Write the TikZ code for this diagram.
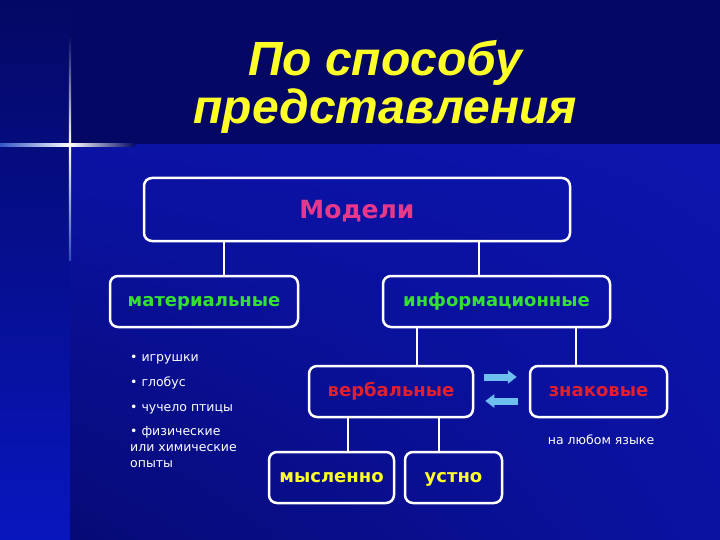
\documentclass[tikz,border=0pt]{standalone}
\usepackage{fontspec}
\setmainfont{DejaVu Sans}
\newfontfamily\titlefont{Liberation Sans}
\usetikzlibrary{arrows.meta,positioning,shadings}

\definecolor{bgtop}{RGB}{4,8,100}
\definecolor{bgbright}{RGB}{12,20,172}
\definecolor{bgdark}{RGB}{6,10,118}
\definecolor{stripblue}{RGB}{8,22,190}
\definecolor{sparkle}{RGB}{70,120,240}
\definecolor{modpink}{RGB}{232,56,140}
\definecolor{matgreen}{RGB}{50,225,50}
\definecolor{verbred}{RGB}{228,30,45}
\definecolor{ttlyellow}{RGB}{255,255,40}
\definecolor{arrblue}{RGB}{110,190,240}

\begin{document}
\begin{tikzpicture}[x=1pt,y=-1pt,
    modelbox/.style={draw=white,line width=2.5pt,rounded corners=8pt,inner sep=0pt,
      minimum height=51pt,text height=10pt,text depth=0pt,
      font=\fontsize{18}{20}\selectfont\bfseries},
    link/.style={draw=white,line width=2.5pt},
    flow/.style={arrblue,line width=7pt,-{Triangle[width=13pt,length=9pt]}},
    listitem/.style={anchor=base west,text=white,inner sep=0pt,
      font=\fontsize{12.5}{16}\selectfont},
    heading/.style={text=ttlyellow,anchor=base,inner sep=0pt,
      font=\titlefont\fontsize{48}{50}\selectfont\bfseries\itshape}]
    \useasboundingbox (0,0) rectangle (720,540);
    % background
    \fill[bgtop] (0,0) rectangle (720,540);
    \shade[top color=bgtop,bottom color=stripblue] (0,0) rectangle (70,540);
    \shade[upper left=bgbright!85!bgdark,upper right=bgbright,
      lower left=bgdark,lower right=bgbright!80!bgdark] (70,145) rectangle (720,540);
    \shade[left color=sparkle!70!bgtop,right color=white] (0,143.8) rectangle (70,146.2);
    \shade[left color=white,right color=bgtop] (70,143.8) rectangle (135,146.2);
    \shade[top color=bgtop,bottom color=white] (68.8,35) rectangle (71.2,145);
    \shade[top color=white,bottom color=sparkle!60!bgtop] (68.8,145) rectangle (71.2,260);

    \node[heading] (title1) at (385,76) {По способу};
    \node[heading] (title2) at (385,124) {представления};

    \node[modelbox,minimum width=426pt,minimum height=63pt,text=modpink,
      text height=18pt,font=\fontsize{25}{28}\selectfont\bfseries] (models) at (357,209.5) {Модели};
    \node[modelbox,minimum width=188pt,text=matgreen] (mat) at (204,301.5) {материальные};
    \node[modelbox,minimum width=227pt,text=matgreen] (info) at (496.5,301.5) {информационные};
    \node[modelbox,minimum width=164pt,text=verbred] (verb) at (391,391.5) {вербальные};
    \node[modelbox,minimum width=137pt,text=verbred] (sign) at (598.5,391.5) {знаковые};
    \node[modelbox,minimum width=125pt,text=ttlyellow] (mind) at (331.5,477.5) {мысленно};
    \node[modelbox,minimum width=97pt,text=ttlyellow] (oral) at (453.5,477.5) {устно};

    \draw[link] ([xshift=20pt]mat.north) -- ([xshift=20pt]mat.north |- models.south);
    \draw[link] ([xshift=-17.5pt]info.north) -- ([xshift=-17.5pt]info.north |- models.south);
    \draw[link] ([xshift=26pt]verb.north) -- ([xshift=26pt]verb.north |- info.south);
    \draw[link] ([xshift=-22.5pt]sign.north) -- ([xshift=-22.5pt]sign.north |- info.south);
    \draw[link] ([xshift=16.5pt]mind.north) -- ([xshift=16.5pt]mind.north |- verb.south);
    \draw[link] ([xshift=-14.5pt]oral.north) -- ([xshift=-14.5pt]oral.north |- verb.south);

    \draw[flow] ([xshift=10pt,yshift=14.5pt]verb.east) -- ([xshift=-12pt,yshift=14.5pt]sign.west);
    \draw[flow] ([xshift=-11pt,yshift=-9.5pt]sign.west) -- ([xshift=11pt,yshift=-9.5pt]verb.east);

    \node[text=white,font=\fontsize{12.5}{15}\selectfont] (lang) at (601,440) {на любом языке};

    \node[listitem] (toys) at (130,361) {• игрушки};
    \node[listitem] (globe) at (130,386) {• глобус};
    \node[listitem] (bird) at (130,411) {• чучело птицы};
    \node[listitem,anchor=north west,align=left] (exper) at (130,426)
      {• физические\\или химические\\опыты};
\end{tikzpicture}
\end{document}
